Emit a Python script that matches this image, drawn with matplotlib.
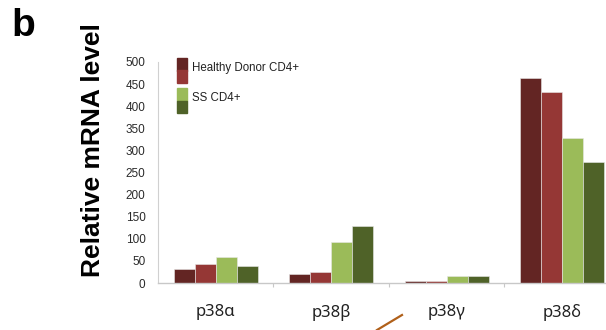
import matplotlib.pyplot as plt
import numpy as np
from matplotlib.patches import Rectangle
from matplotlib.lines import Line2D

# p38 isoforms, relative mRNA level
genes = ["p38\u03b1", "p38\u03b2", "p38\u03b3", "p38\u03b4"]
healthy_1 = [31, 20, 4, 464]
healthy_2 = [42, 25, 4, 433]
ss_1 = [59, 93, 15, 329]
ss_2 = [38, 130, 15, 274]
yticks = list(range(0, 501, 50))

colores = ["#632523", "#953735", "#9BBB59", "#4F6228"]
series = [healthy_1, healthy_2, ss_1, ss_2]

fig = plt.figure(figsize=(6.06, 3.3), dpi=100)
ax = fig.add_axes([0.2607, 0.1424, 0.7624, 0.670])

x = np.arange(len(genes))
w = 0.1825
for i in range(4):
    ax.bar(x + (i - 1.5) * w, series[i], w, color=colores[i],
           edgecolor="#e8e8e8", linewidth=0.4)

ax.set_xlim(-0.5, 3.5)
ax.set_ylim(0, 500)
ax.set_yticks(yticks)
ax.set_yticklabels([str(t) for t in yticks], family="Liberation Sans",
                   fontsize=8.5, color="#2a2a2a")
ax.tick_params(axis="y", length=0, pad=9)

# category labels between boundary ticks
ax.set_xticks(x)
ax.set_xticklabels(genes, family=["Noto Sans", "DejaVu Sans"], fontsize=12, color="#222222")
ax.tick_params(axis="x", length=0, pad=15)
ax.set_xticks([0.5, 1.5, 2.5], minor=True)
ax.tick_params(axis="x", which="minor", length=3, color="#c8c8c8", width=0.8)

for s in ["top", "right"]:
    ax.spines[s].set_visible(False)
ax.spines["left"].set_color("#d0d0d0")
ax.spines["bottom"].set_color("#c8c8c8")
ax.spines["left"].set_linewidth(0.8)
ax.spines["bottom"].set_linewidth(1.0)

fig.text(0.153, 0.544, "Relative mRNA level", rotation=90, ha="center", va="center",
         family="Liberation Sans", fontweight="bold", fontsize=19)
fig.text(0.019, 0.975, "b", ha="left", va="top", family="Liberation Sans",
         fontweight="bold", fontsize=28)

# legend with two-tone swatches
leg = [("Healthy Donor CD4+", colores[0], colores[1], 58),
       ("SS CD4+", colores[2], colores[3], 88)]
for txt, c1, c2, ytop in leg:
    fig.patches.append(Rectangle((177 / 606, 1 - (ytop + 12.5) / 330), 10 / 606, 12.5 / 330,
                                 transform=fig.transFigure, color=c1))
    fig.patches.append(Rectangle((177 / 606, 1 - (ytop + 25) / 330), 10 / 606, 12.5 / 330,
                                 transform=fig.transFigure, color=c2))
    fig.text(192 / 606, 1 - (ytop + 10) / 330, txt, ha="left", va="center",
             family="Liberation Sans", fontsize=8.3, color="#222222")

# stray arrow stub at the bottom edge
fig.lines.append(Line2D([377 / 606, 402 / 606], [0.0, 15 / 330], transform=fig.transFigure,
                        color="#B0601A", linewidth=1.6))

plt.savefig("out.png", dpi=100)
